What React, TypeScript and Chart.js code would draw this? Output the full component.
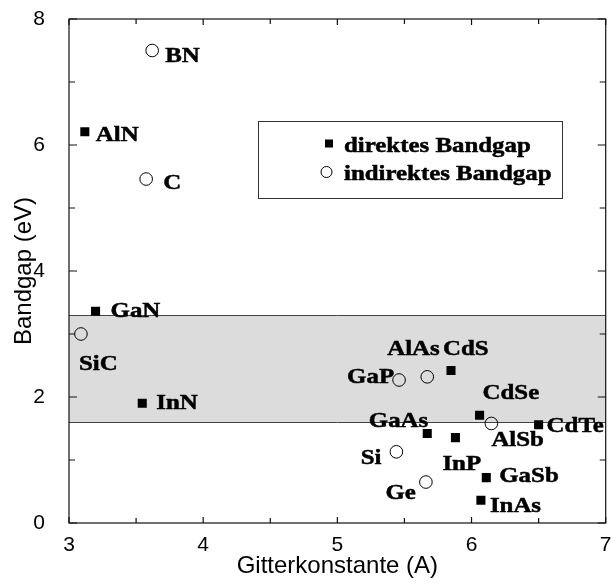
import React, { useEffect, useRef } from 'react';
import { Chart, registerables } from 'chart.js';

Chart.register(...registerables);

// ---- data ----
const DIRECT_NAMES = ['AlN', 'GaN', 'InN', 'CdS', 'CdSe', 'CdTe', 'GaAs', 'InP', 'GaSb', 'InAs'];
const DIRECT_X = [3.118, 3.198, 3.546, 5.847, 6.06, 6.5, 5.67, 5.88, 6.11, 6.07];
const DIRECT_Y = [6.21, 3.36, 1.9, 2.42, 1.71, 1.56, 1.42, 1.355, 0.72, 0.36];

const INDIRECT_NAMES = ['BN', 'C', 'SiC', 'GaP', 'AlAs', 'AlSb', 'Si', 'Ge'];
const INDIRECT_X = [3.62, 3.575, 3.089, 5.46, 5.67, 6.148, 5.44, 5.66];
const INDIRECT_Y = [7.5, 5.46, 3.0, 2.27, 2.32, 1.58, 1.13, 0.65];

const SERIES_LABELS = ['direktes Bandgap', 'indirektes Bandgap'];
const BAND = [1.6, 3.3];

const X_TICK_LABELS = [3, 4, 5, 6, 7];
const Y_TICK_LABELS = [0, 2, 4, 6, 8];
const X_TITLE = 'Gitterkonstante (A)';
const Y_TITLE = 'Bandgap (eV)';

// ---- label placement (style: pixel offsets from the marker, baseline) ----
const LABEL_PLACE: Record<string, [number, number, 'left' | 'right']> = {
  AlN: [11, 9, 'left'],
  GaN: [15, 6, 'left'],
  InN: [14, 6, 'left'],
  CdS: [-8, -16, 'left'],
  CdSe: [3, -16, 'left'],
  CdTe: [8, 7, 'left'],
  GaAs: [1, -7, 'right'],
  InP: [-13, 32, 'left'],
  GaSb: [13, 4, 'left'],
  InAs: [9, 12, 'left'],
  BN: [13, 11, 'left'],
  C: [17, 10, 'left'],
  SiC: [-2, 36, 'left'],
  GaP: [-5, 3, 'right'],
  AlAs: [-40, -22, 'left'],
  AlSb: [0, 23, 'left'],
  Si: [-15, 12, 'right'],
  Ge: [-10, 17, 'right'],
};

const SERIF = '"Liberation Serif", "Times New Roman", serif';
const SANS = '"Liberation Sans", Arial, Helvetica, sans-serif';
const STRETCH = 1.13;

function drawStretchedText(ctx: CanvasRenderingContext2D, text: string, x: number, y: number, align: 'left' | 'right') {
  ctx.save();
  ctx.font = `bold 22px ${SERIF}`;
  ctx.textBaseline = 'alphabetic';
  ctx.textAlign = align;
  ctx.fillStyle = '#000';
  ctx.strokeStyle = '#000';
  ctx.lineWidth = 0.5;
  ctx.translate(x, y);
  ctx.scale(STRETCH, 1);
  ctx.fillText(text, 0, 0);
  ctx.strokeText(text, 0, 0);
  ctx.restore();
}

const bandPlugin = {
  id: 'bandPlugin',
  beforeDatasetsDraw(chart: any) {
    const { ctx, chartArea } = chart;
    const ys = chart.scales.y;
    const y1 = ys.getPixelForValue(BAND[1]);
    const y0 = ys.getPixelForValue(BAND[0]);
    ctx.save();
    ctx.fillStyle = '#dcdcdc';
    ctx.fillRect(chartArea.left, y1, chartArea.right - chartArea.left, y0 - y1);
    ctx.strokeStyle = '#444';
    ctx.lineWidth = 1;
    ctx.beginPath();
    ctx.moveTo(chartArea.left, Math.round(y1) + 0.5);
    ctx.lineTo(chartArea.right, Math.round(y1) + 0.5);
    ctx.moveTo(chartArea.left, Math.round(y0) + 0.5);
    ctx.lineTo(chartArea.right, Math.round(y0) + 0.5);
    ctx.stroke();
    ctx.restore();
  },
};

const framePlugin = {
  id: 'framePlugin',
  afterDatasetsDraw(chart: any) {
    const { ctx, chartArea } = chart;
    const { left, right, top, bottom } = chartArea;
    const xs = chart.scales.x;
    const ys = chart.scales.y;
    ctx.save();
    ctx.strokeStyle = '#111';
    ctx.lineWidth = 1.2;
    ctx.strokeRect(left, top, right - left, bottom - top);
    ctx.beginPath();
    xs.ticks.forEach((t: any) => {
      const px = xs.getPixelForValue(t.value);
      const major = X_TICK_LABELS.includes(t.value);
      const len = major ? 6 : 5;
      ctx.moveTo(px, bottom);
      ctx.lineTo(px, bottom - len);
      ctx.moveTo(px, top);
      ctx.lineTo(px, top + len);
    });
    ys.ticks.forEach((t: any) => {
      const py = ys.getPixelForValue(t.value);
      const major = Y_TICK_LABELS.includes(t.value);
      const len = major ? 8 : 6;
      ctx.moveTo(left, py);
      ctx.lineTo(left + len, py);
      ctx.moveTo(right, py);
      ctx.lineTo(right - len, py);
    });
    ctx.stroke();
    ctx.restore();

    // point labels
    const names = [DIRECT_NAMES, INDIRECT_NAMES];
    names.forEach((list, di) => {
      const meta = chart.getDatasetMeta(di);
      meta.data.forEach((el: any, i: number) => {
        const name = list[i];
        const p = LABEL_PLACE[name] || [10, 6, 'left'];
        drawStretchedText(ctx, name, el.x + p[0], el.y + p[1], p[2]);
      });
    });

    // legend box
    ctx.save();
    ctx.strokeStyle = '#333';
    ctx.lineWidth = 1;
    ctx.fillStyle = '#fff';
    ctx.fillRect(258.5, 121.5, 304, 77);
    ctx.strokeRect(258.5, 121.5, 304, 77);
    ctx.fillStyle = '#000';
    ctx.fillRect(325, 139.5, 8, 8);
    ctx.beginPath();
    ctx.arc(326.5, 172, 5.5, 0, Math.PI * 2);
    ctx.lineWidth = 1;
    ctx.strokeStyle = '#000';
    ctx.stroke();
    ctx.restore();
    drawStretchedText(ctx, chart.data.datasets[0].label, 344, 152, 'left');
    drawStretchedText(ctx, chart.data.datasets[1].label, 344, 180, 'left');
  },
};

export default function App() {
  const ref = useRef<HTMLCanvasElement>(null);
  useEffect(() => {
    const canvas = ref.current;
    if (!canvas) return;
    const chart = new Chart(canvas, {
      type: 'scatter',
      data: {
        datasets: [
          {
            label: SERIES_LABELS[0],
            data: DIRECT_X.map((x, i) => ({ x, y: DIRECT_Y[i] })),
            pointStyle: 'rect',
            pointRadius: 6.4,
            pointHoverRadius: 6.4,
            backgroundColor: '#000',
            borderColor: '#000',
            borderWidth: 0,
          },
          {
            label: SERIES_LABELS[1],
            data: INDIRECT_X.map((x, i) => ({ x, y: INDIRECT_Y[i] })),
            pointStyle: 'circle',
            pointRadius: 6.3,
            pointHoverRadius: 6.3,
            backgroundColor: 'rgba(0,0,0,0)',
            borderColor: '#000',
            borderWidth: 1,
          },
        ],
      },
      options: {
        animation: false,
        responsive: false,
        events: [],
        layout: { padding: { top: 19, right: 2, left: 0, bottom: 0 } },
        plugins: {
          legend: { display: false },
          tooltip: { enabled: false },
        },
        scales: {
          x: {
            type: 'linear',
            min: 3,
            max: 7,
            grid: { display: false },
            border: { display: false },
            ticks: {
              stepSize: 0.5,
              autoSkip: false,
              maxRotation: 0,
              padding: 2,
              color: '#000',
              font: { family: SANS, size: 21 },
              callback: (v: any) => (X_TICK_LABELS.includes(Number(v)) ? String(v) : ''),
            },
            title: {
              display: true,
              text: X_TITLE,
              color: '#000',
              font: { family: SANS, size: 24 },
              padding: { top: 0, bottom: 5 },
            },
            afterFit: (s: any) => {
              s.height = 63;
              s.paddingLeft = 0;
              s.paddingRight = 0;
            },
          },
          y: {
            type: 'linear',
            min: 0,
            max: 8,
            grid: { display: false },
            border: { display: false },
            ticks: {
              stepSize: 1,
              autoSkip: false,
              padding: 16,
              color: '#000',
              font: { family: SANS, size: 21 },
              callback: (v: any) => (Y_TICK_LABELS.includes(Number(v)) ? String(v) : ''),
            },
            title: {
              display: true,
              text: Y_TITLE,
              color: '#000',
              font: { family: SANS, size: 24 },
              padding: { top: 10, bottom: 0 },
            },
            afterFit: (s: any) => {
              s.width = 69;
              s.paddingTop = 0;
              s.paddingBottom = 0;
            },
          },
        },
      },
      plugins: [bandPlugin, framePlugin],
    });
    return () => chart.destroy();
  }, []);
  return (
    <div style={{ position: 'absolute', left: 0, top: 0, width: 613, height: 586, background: '#fff' }}>
      <canvas ref={ref} width={613} height={586} style={{ display: 'block' }} />
    </div>
  );
}
